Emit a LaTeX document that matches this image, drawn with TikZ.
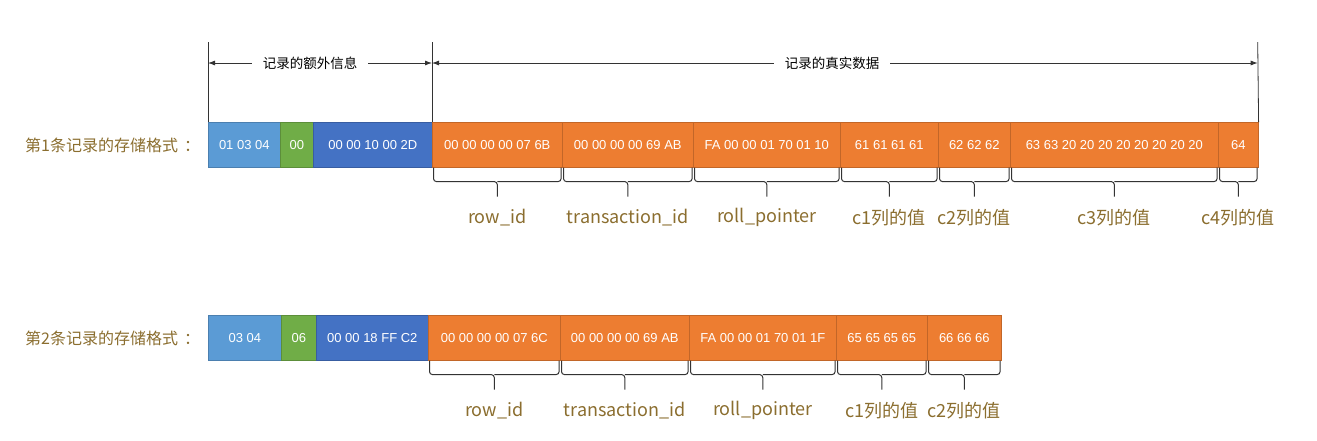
\documentclass[tikz,border=0pt]{standalone}
\usepackage{fontspec}
\setmainfont{Liberation Sans}
\newfontfamily\cjk{Noto Sans CJK SC}
\usetikzlibrary{arrows.meta}
\definecolor{lblue}{HTML}{5B9BD5}
\definecolor{grn}{HTML}{70AD47}
\definecolor{dblue}{HTML}{4472C4}
\definecolor{org}{HTML}{ED7D31}
\definecolor{lbl}{HTML}{8B6E2F}
\definecolor{ink}{HTML}{333333}
\newcommand\mycell[6]{\node[cell=#1, minimum width=#4pt] (#2) at (#3,#5) {#6};}
\newcommand\mybrace[3]{%
  \draw[brc] ([xshift=1.5pt]#1.south west) |- ([yshift=-14pt]#1.south) -- ++(0,15);
  \draw[brc] ([xshift=-1.5pt]#1.south east) |- ([yshift=-14pt]#1.south);
  \node[blabel] (#3) at ([yshift=-50pt]#1.south) {#2};}
\begin{document}
\begin{tikzpicture}[x=1pt,y=-1pt,
  cell/.style={minimum height=45pt, inner sep=0pt, anchor=north west, text=white,
    font=\fontsize{13}{15}\selectfont, draw=#1!82!black, fill=#1, line width=0.6pt},
  brc/.style={draw=ink, line width=1pt, rounded corners=3pt},
  blabel/.style={text=lbl, font=\cjk\fontsize{18}{20}\selectfont, inner sep=0pt},
  rlabel/.style={text=lbl, font=\cjk\fontsize{16}{18}\selectfont, inner sep=0pt, anchor=west},
  hdr/.style={text=black, font=\cjk\fontsize{13.5}{15}\selectfont, inner ysep=0pt, inner xsep=11pt},
  vline/.style={draw=ink, line width=0.8pt},
  arr/.style={draw=ink, line width=0.8pt, -{Latex[length=7pt,width=5pt]}}]
\useasboundingbox[fill=white] (0,0) rectangle (1317,440);

% row 1
\node[rlabel] (l1) at (25,145) {第1条记录的存储格式\kern6pt：};
\mycell{lblue}{a1}{208}{72}{122}{01 03 04}
\mycell{grn}{a2}{280}{33}{122}{00}
\mycell{dblue}{a3}{313}{119}{122}{00 00 10 00 2D}
\mycell{org}{a4}{432}{130}{122}{00 00 00 00 07 6B}
\mycell{org}{a5}{562}{131}{122}{00 00 00 00 69 AB}
\mycell{org}{a6}{693}{147}{122}{FA 00 00 01 70 01 10}
\mycell{org}{a7}{840}{98}{122}{61 61 61 61}
\mycell{org}{a8}{938}{72}{122}{62 62 62}
\mycell{org}{a9}{1010}{208}{122}{63 63 20 20 20 20 20 20 20 20}
\mycell{org}{a10}{1218}{40}{122}{64}

% header
\coordinate (v1) at (208,42);
\coordinate (v2) at (432,42);
\coordinate (v3) at (1257.7,42);
\draw[vline] (v1) -- (a1.north west);
\draw[vline] (v2) -- (a4.north west);
\draw[vline] (v3) -- (a10.north east);
\node[hdr] (h1) at (310,63) {记录的额外信息};
\node[hdr] (h2) at (832,63) {记录的真实数据};
\draw[arr] (h1.west) -- (h1.west -| v1);
\draw[arr] (h1.east) -- (h1.east -| v2);
\draw[arr] (h2.west) -- (h2.west -| v2);
\draw[arr] (h2.east) -- (h2.east -| v3);

\mybrace{a4}{row\_id}{b4}
\mybrace{a5}{transaction\_id}{b5}
\mybrace{a6}{roll\_pointer}{b6}
\mybrace{a7}{c1列的值}{b7}
\mybrace{a8}{c2列的值}{b8}
\mybrace{a9}{c3列的值}{b9}
\mybrace{a10}{c4列的值}{b10}

% row 2
\node[rlabel] (l2) at (25,338) {第2条记录的存储格式\kern6pt：};
\mycell{lblue}{d1}{208}{73}{315}{03 04}
\mycell{grn}{d2}{281}{35}{315}{06}
\mycell{dblue}{d3}{316}{112}{315}{00 00 18 FF C2}
\mycell{org}{d4}{428}{132}{315}{00 00 00 00 07 6C}
\mycell{org}{d5}{560}{129}{315}{00 00 00 00 69 AB}
\mycell{org}{d6}{689}{147}{315}{FA 00 00 01 70 01 1F}
\mycell{org}{d7}{836}{91}{315}{65 65 65 65}
\mycell{org}{d8}{927}{74}{315}{66 66 66}

\mybrace{d4}{row\_id}{e4}
\mybrace{d5}{transaction\_id}{e5}
\mybrace{d6}{roll\_pointer}{e6}
\mybrace{d7}{c1列的值}{e7}
\mybrace{d8}{c2列的值}{e8}
\end{tikzpicture}
\end{document}
